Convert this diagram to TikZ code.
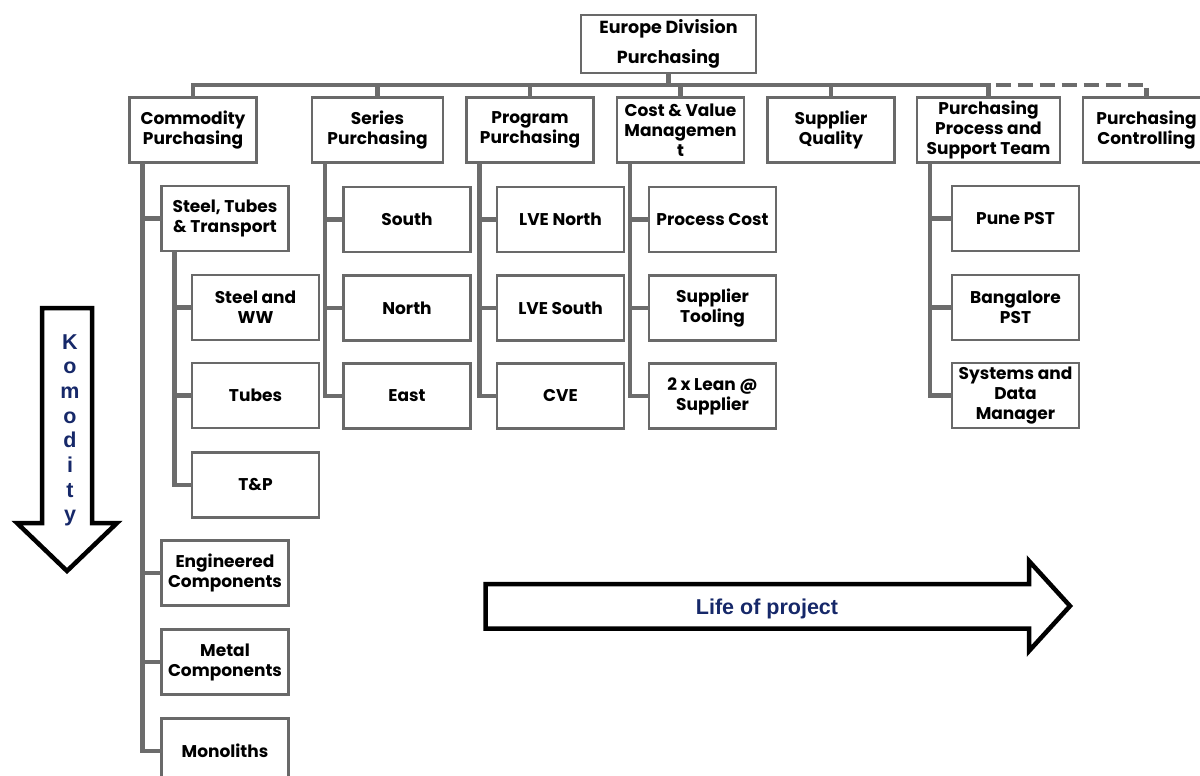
\documentclass[tikz,border=0pt]{standalone}
\usepackage{fontspec}
\newfontfamily\boxfont{Poppins}
\newfontfamily\arrowfont{Liberation Sans}
\definecolor{linkgray}{RGB}{108,108,108}
\definecolor{boxgray}{RGB}{105,105,105}
\definecolor{navy}{RGB}{22,40,105}

\begin{document}
\begin{tikzpicture}[x=1pt,y=-1pt,
    unit/.style={draw=boxgray, line width=2.4pt, fill=white, outer sep=0pt,
      minimum width=127pt, minimum height=65pt, inner sep=1pt, align=center,
      font=\boxfont\bfseries\fontsize{17}{20}\selectfont},
    link/.style={draw=linkgray, line width=4.5pt},
    bigarrow/.style={draw=black, line width=4.5pt, line join=miter},
    arrowtext/.style={text=navy, inner sep=0pt,
      font=\arrowfont\bfseries\fontsize{21.5}{24}\selectfont}]
%	\draw [help lines, step=50] (0,0) grid (1200,776);
	\useasboundingbox (0,0) rectangle (1200,776);
	\clip (0,0) rectangle (1200,776);

	% head and first level
	\node[unit, minimum width=175pt, minimum height=58pt,
	  font=\boxfont\bfseries\fontsize{17.5}{30}\selectfont] (europe) at (668.5,44) {Europe Division\\Purchasing};
	\node[unit] (comm) at (193,130) {Commodity\\Purchasing};
	\node[unit, minimum width=131pt] (series) at (377.5,130) {Series\\Purchasing};
	\node[unit] (program) at (530,130) {Program\\Purchasing};
	\node[unit] (cost) at (680.5,130) {Cost \& Value\\Managemen\\t};
	\node[unit] (sq) at (831,130) {Supplier\\Quality};
	\node[unit, minimum width=143pt] (ppst) at (988.5,130) {Purchasing\\Process and\\Support Team};
	\node[unit] (pc) at (1146.5,130) {Purchasing\\Controlling};

	% commodity column
	\node[unit] (stt) at (225,218.5) {Steel, Tubes\\\& Transport};
	\node[unit] (sww) at (255.5,307.5) {Steel and\\WW};
	\node[unit] (tubes) at (255.5,395.5) {Tubes};
	\node[unit] (tp) at (255.5,485) {T\&P};
	\node[unit] (eng) at (225,573) {Engineered\\Components};
	\node[unit] (metal) at (225,662) {Metal\\Components};
	\node[unit] (mono) at (225,751) {Monoliths};

	% other columns
	\node[unit] (south) at (407,219.5) {South};
	\node[unit] (north) at (407,308) {North};
	\node[unit] (east) at (407,396) {East};
	\node[unit] (lven) at (560.5,219.5) {LVE North};
	\node[unit] (lves) at (560.5,308) {LVE South};
	\node[unit] (cve) at (560.5,396) {CVE};
	\node[unit] (pcost) at (712.5,219.5) {Process Cost};
	\node[unit] (stool) at (712.5,308) {Supplier\\Tooling};
	\node[unit] (lean) at (712.5,396) {2 x Lean @\\Supplier};
	\node[unit] (pune) at (1015.5,218.5) {Pune PST};
	\node[unit] (blr) at (1015.5,307.5) {Bangalore\\PST};
	\node[unit] (sdm) at (1015.5,395.5) {Systems and\\Data\\Manager};

	% bus
	\coordinate (bus) at (668.5,85);
	\draw[link] (comm.north) |- (bus) -| (ppst.north);
	\foreach \n in {europe.south, series.north, program.north, cost.north, sq.north}
		\draw[link] (\n) -- (\n |- bus);
	\draw[link, dash pattern=on 15pt off 7pt, dash phase=15pt] (ppst.north |- bus) -| (pc.north);

	% trunks
	\foreach \p/\c in {comm/stt, comm/eng, comm/metal, comm/mono, stt/sww, stt/tubes, stt/tp,
	    series/south, series/north, series/east, program/lven, program/lves, program/cve,
	    cost/pcost, cost/stool, cost/lean, ppst/pune, ppst/blr, ppst/sdm}
		\draw[link] ([xshift=13pt]\p.south west) |- (\c.west);

	% arrows
	\draw[bigarrow] (42,308) -- (92,308) -- (92,523) -- (117,523) -- (67,571) -- (17,523) -- (42,523) -- cycle;
	\foreach \l [count=\i from 0] in {K,o,m,o,d,i,t,y}
		\node[arrowtext, anchor=base] (k\i) at (70,349+24.7*\i) {\l};
	\draw[bigarrow] (485.5,584) -- (1029,584) -- (1029,561) -- (1070,606) -- (1029,651) -- (1029,628.5) -- (485.5,628.5) -- cycle;
	\node[arrowtext, anchor=base] (life) at (767,614) {Life of project};
\end{tikzpicture}
\end{document}
